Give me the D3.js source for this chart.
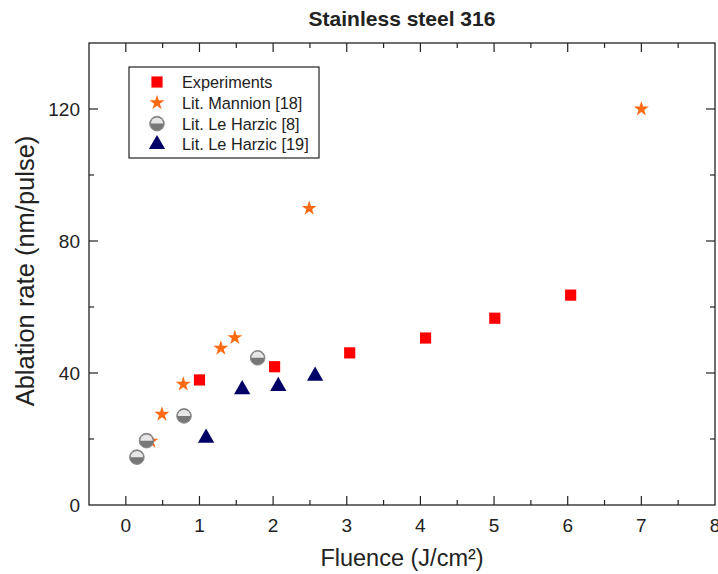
<!DOCTYPE html>
<html>
<head>
<meta charset="utf-8">
<script src="https://cdn.jsdelivr.net/npm/d3@7"></script>
<style>
  body { margin: 0; background: #fff; }
  text { font-family: "Liberation Sans", Arial, sans-serif; fill: #222; }
</style>
</head>
<body>
<div id="chart"></div>
<script>
// series (fluence J/cm2, ablation nm/pulse)
const expX = [1.0, 2.02, 3.04, 4.07, 5.01, 6.04];
const expY = [37.9, 41.9, 46.1, 50.6, 56.6, 63.6];

const mannionX = [0.34, 0.49, 0.78, 1.29, 1.48, 2.49, 7.0];
const mannionY = [19.3, 27.5, 36.6, 47.5, 50.7, 89.9, 120];

const harzic8X = [0.15, 0.28, 0.79, 1.79];
const harzic8Y = [14.5, 19.5, 27.0, 44.6];

const harzic19X = [1.09, 1.58, 2.07, 2.57];
const harzic19Y = [20.3, 35.0, 36.0, 39.1];

const xTicks = [0, 1, 2, 3, 4, 5, 6, 7, 8];
const yTicks = [0, 40, 80, 120];

const seriesNames = ['Experiments', 'Lit. Mannion [18]', 'Lit. Le Harzic [8]', 'Lit. Le Harzic [19]'];

const W = 718, H = 574;
const pl = 89, pr = 715, pt = 43, pb = 505;

const x = d3.scaleLinear().domain([-0.5, 8]).range([pl, pr]);
const y = d3.scaleLinear().domain([0, 140]).range([pb, pt]);

const svg = d3.select('#chart').append('svg')
    .attr('width', W)
    .attr('height', H);

// frame
svg.append('rect')
    .attr('x', pl).attr('y', pt)
    .attr('width', pr - pl).attr('height', pb - pt)
    .attr('fill', 'none').attr('stroke', '#222').attr('stroke-width', 1.3);

// ticks, inward on all four sides
const xMinor = d3.range(0.5, 8, 1);
const yMinor = [20, 60, 100];

function tickLines(vals, len, horiz) {
  vals.forEach(v => {
    if (horiz) {
      svg.append('line').attr('x1', x(v)).attr('x2', x(v)).attr('y1', pb).attr('y2', pb - len);
      svg.append('line').attr('x1', x(v)).attr('x2', x(v)).attr('y1', pt).attr('y2', pt + len);
    } else {
      svg.append('line').attr('y1', y(v)).attr('y2', y(v)).attr('x1', pl).attr('x2', pl + len);
      svg.append('line').attr('y1', y(v)).attr('y2', y(v)).attr('x1', pr).attr('x2', pr - len);
    }
  });
}
tickLines(xTicks.filter(v => v < 8), 9, true);
tickLines(xMinor, 5, true);
tickLines(yTicks.filter(v => v > 0), 9, false);
tickLines(yMinor, 5, false);
svg.selectAll('line').attr('stroke', '#222').attr('stroke-width', 1.2);

// tick labels
svg.selectAll('.xl').data(xTicks).join('text')
    .attr('x', d => x(d)).attr('y', 532)
    .attr('text-anchor', 'middle')
    .attr('font-size', 19)
    .text(d => d);

svg.selectAll('.yl').data(yTicks).join('text')
    .attr('x', 80).attr('y', d => y(d) + 7)
    .attr('text-anchor', 'end')
    .attr('font-size', 19)
    .text(d => d);

// titles
svg.append('text')
    .attr('x', (pl + pr) / 2).attr('y', 26)
    .attr('text-anchor', 'middle')
    .attr('font-size', 21).attr('font-weight', 'bold')
    .text('Stainless steel 316');

svg.append('text')
    .attr('x', (pl + pr) / 2).attr('y', 566)
    .attr('text-anchor', 'middle')
    .attr('font-size', 23.5)
    .text('Fluence (J/cm²)');

svg.append('text')
    .attr('transform', 'translate(34,271) rotate(-90)')
    .attr('text-anchor', 'middle')
    .attr('font-size', 25.5)
    .text('Ablation rate (nm/pulse)');

// marker painters
const sq = d3.symbol().type(d3.symbolSquare).size(125);
const star = d3.symbol().type(d3.symbolStar).size(70);
const tri = d3.symbol().type(d3.symbolTriangle).size(115);

function drawCircle(g) {
  g.append('circle').attr('r', 7.3).attr('fill', '#777').attr('stroke', '#8a8a8a');
  g.append('path')
      .attr('d', 'M-6.2,0 A6.2,6.2 0 0 1 6.2,0 Z')
      .attr('fill', '#e6e6e6');
}

const painters = [
  g => g.append('path').attr('d', sq()).attr('fill', '#ff0000'),
  g => g.append('path').attr('d', star()).attr('fill', '#ff6a13'),
  drawCircle,
  g => g.append('path').attr('d', tri()).attr('fill', '#000066')
];

const series = [
  [expX, expY],
  [mannionX, mannionY],
  [harzic8X, harzic8Y],
  [harzic19X, harzic19Y]
];

// draw Mannion first so the circle sits over the star near x=0.3
[1, 0, 2, 3].forEach(i => {
  const [xs, ys] = series[i];
  xs.forEach((xv, j) => {
    const g = svg.append('g').attr('transform', `translate(${x(xv)},${y(ys[j])})`);
    painters[i](g);
  });
});

// legend
const lg = svg.append('g');
lg.append('rect')
    .attr('x', 129).attr('y', 67).attr('width', 190).attr('height', 91)
    .attr('fill', '#fff').attr('stroke', '#222').attr('stroke-width', 1.2);
seriesNames.forEach((name, i) => {
  const cy = 82 + i * 20.8;
  const g = lg.append('g').attr('transform', `translate(157,${cy})`);
  painters[i](g);
  lg.append('text')
      .attr('x', 182).attr('y', cy + 6)
      .attr('font-size', 16.3)
      .text(name);
});
</script>
</body>
</html>
